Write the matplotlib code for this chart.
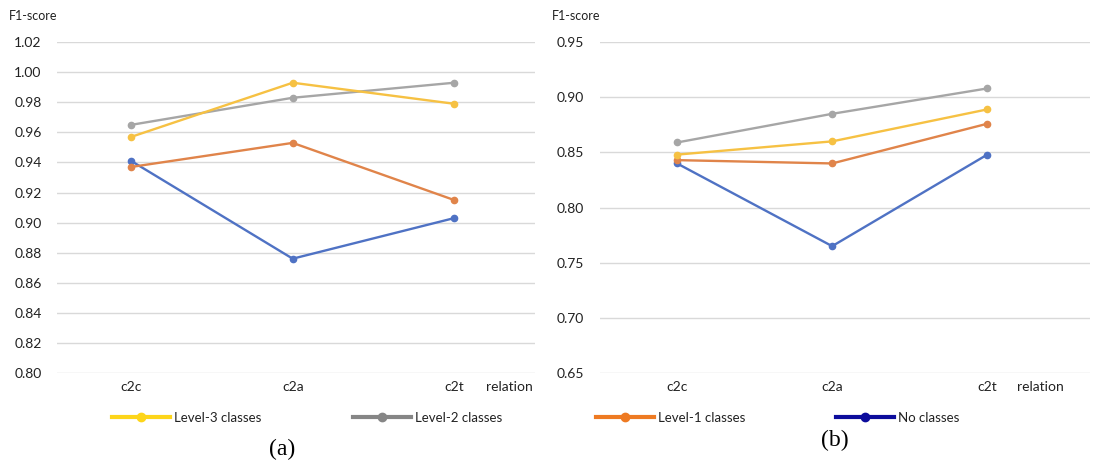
import matplotlib
matplotlib.use("Agg")
import matplotlib.pyplot as plt
from matplotlib.lines import Line2D

plt.rcParams['font.family'] = ['Lato', 'DejaVu Sans']

relations = ['c2c', 'c2a', 'c2t']
series_names = ['No classes', 'Level-1 classes', 'Level-2 classes', 'Level-3 classes']

# panel (a)
a_none = [0.941, 0.876, 0.903]
a_lvl1 = [0.937, 0.953, 0.915]
a_lvl2 = [0.965, 0.983, 0.993]
a_lvl3 = [0.957, 0.993, 0.979]

# panel (b)
b_none = [0.840, 0.765, 0.848]
b_lvl1 = [0.843, 0.840, 0.876]
b_lvl2 = [0.859, 0.885, 0.908]
b_lvl3 = [0.848, 0.860, 0.889]

a_ticks = [0.80, 0.82, 0.84, 0.86, 0.88, 0.90, 0.92, 0.94, 0.96, 0.98, 1.00, 1.02]
b_ticks = [0.65, 0.70, 0.75, 0.80, 0.85, 0.90, 0.95]

line_colors = ['#4F72C4', '#E0844A', '#A6A6A6', '#F6C143']
legend_colors = ['#0C0C9C', '#EE7A22', '#868686', '#FDD51A']

fig = plt.figure(figsize=(10.94, 4.68), dpi=100)
ax_a = fig.add_axes([0.052, 0.203, 0.437, 0.707])
ax_b = fig.add_axes([0.548, 0.203, 0.448, 0.707])


def draw_panel(ax, data, ticks, xlim):
    x = range(len(relations))
    for vals, c in zip(data, line_colors):
        ax.plot(x, vals, color=c, lw=1.7, marker='o', markersize=4.5)
    ax.set_ylim(ticks[0], ticks[-1])
    ax.set_yticks(ticks)
    ax.set_yticklabels(['%.2f' % t for t in ticks])
    ax.set_xlim(*xlim)
    ax.set_xticks([0, 1, 2, 2.34])
    ax.set_xticklabels(relations + ['relation'])
    ax.grid(axis='y', color='#D9D9D9', lw=1)
    ax.set_axisbelow(True)
    for s in ax.spines.values():
        s.set_visible(False)
    ax.tick_params(length=0, labelsize=10, colors='#222222')
    ax.tick_params(axis='y', pad=11)
    ax.tick_params(axis='x', pad=6)


draw_panel(ax_a, [a_none, a_lvl1, a_lvl2, a_lvl3], a_ticks, (-0.46, 2.5))
draw_panel(ax_b, [b_none, b_lvl1, b_lvl2, b_lvl3], b_ticks, (-0.5, 2.66))

fig.text(0.008, 0.965, 'F1-score', fontsize=9, color='#222222', va='center')
fig.text(0.504, 0.965, 'F1-score', fontsize=9, color='#222222', va='center')

# legend entries along the bottom
legend_x = [0.102, 0.323, 0.545, 0.764]
order = [3, 2, 1, 0]
for lx, i in zip(legend_x, order):
    h = Line2D([], [], color=legend_colors[i], lw=3, marker='o', markersize=6)
    fig.legend([h], [series_names[i]], loc='center left', bbox_to_anchor=(lx, 0.107),
               frameon=False, handlelength=4.4, handletextpad=0.3, borderpad=0,
               borderaxespad=0, fontsize=9.5, labelcolor='#222222')

fig.text(0.258, 0.040, '(a)', fontsize=17, family='Liberation Serif', va='center', ha='center')
fig.text(0.763, 0.058, '(b)', fontsize=17, family='Liberation Serif', va='center', ha='center')

fig.savefig('out.png', dpi=100)
